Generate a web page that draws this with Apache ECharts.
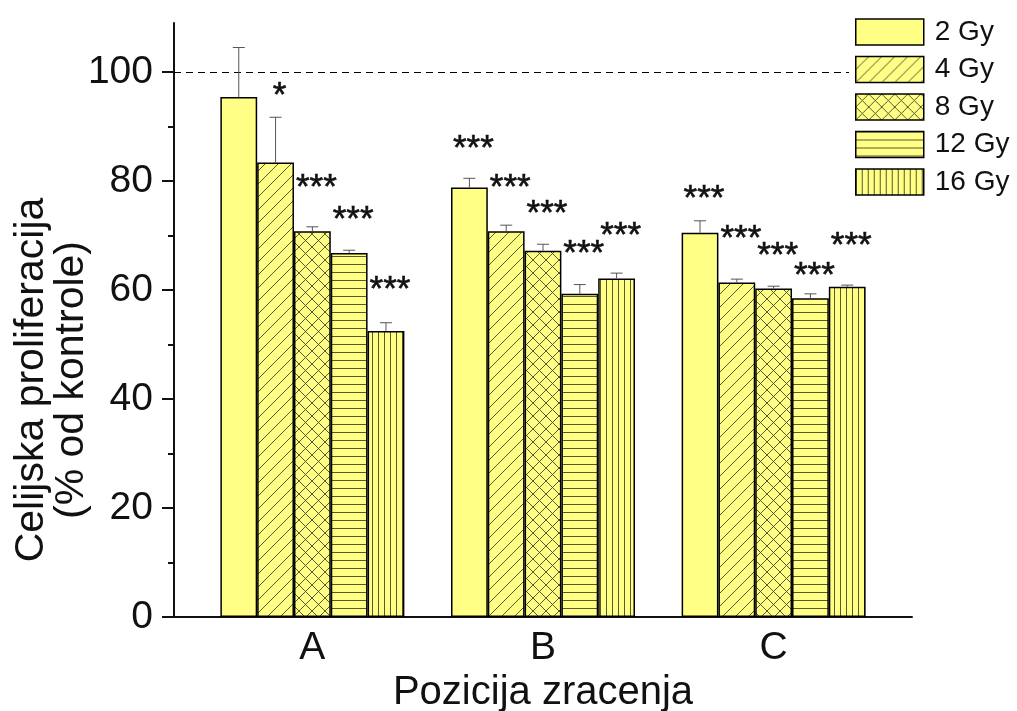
<!DOCTYPE html>
<html>
<head>
<meta charset="utf-8">
<script src="https://cdn.jsdelivr.net/npm/echarts@6/dist/echarts.min.js"></script>
<style>
  html, body { margin: 0; padding: 0; background: #fff; }
  #chart-container { width: 1017px; height: 711px; }
</style>
</head>
<body>
<div id="chart-container"></div>
<script>
// categories (irradiation position) and dose groups
var categories = ['A', 'B', 'C'];
var doses = ['2 Gy', '4 Gy', '8 Gy', '12 Gy', '16 Gy'];

// mean proliferation (% of control), one array per dose, order A, B, C
var v2Gy  = [95.4, 78.8, 70.5];
var v4Gy  = [83.4, 70.8, 61.4];
var v8Gy  = [70.8, 67.2, 60.3];
var v12Gy = [66.8, 59.3, 58.5];
var v16Gy = [52.5, 62.1, 60.6];

// upper error (SD)
var e2Gy  = [9.1, 1.7, 2.2];
var e4Gy  = [8.3, 1.1, 0.6];
var e8Gy  = [0.8, 1.2, 0.4];
var e12Gy = [0.5, 1.7, 0.8];
var e16Gy = [1.5, 1.0, 0.3];

// significance marks and the height (in %) where they are written
var s2Gy  = ['', '***', '***'];
var s4Gy  = ['*', '***', '***'];
var s8Gy  = ['***', '***', '***'];
var s12Gy = ['***', '***', '***'];
var s16Gy = ['***', '***', '***'];
var h2Gy  = [null, 87.2, 78.2];
var h4Gy  = [97.1, 80.2, 70.8];
var h8Gy  = [80.2, 75.4, 67.7];
var h12Gy = [74.3, 68.1, 63.9];
var h16Gy = [61.5, 71.4, 69.5];

var controlLevel = 100;

var values = [v2Gy, v4Gy, v8Gy, v12Gy, v16Gy];
var errors = [e2Gy, e4Gy, e8Gy, e12Gy, e16Gy];
var sigText = [s2Gy, s4Gy, s8Gy, s12Gy, s16Gy];
var sigHeight = [h2Gy, h4Gy, h8Gy, h12Gy, h16Gy];

var FONT = "'Liberation Sans', Arial, sans-serif";
var BAR_W = 36.8;
var FILL = '#ffff86';
var HATCH = 'rgba(70,70,40,0.9)';

// hatch patterns like Origin
function makePattern(kind) {
  var c = document.createElement('canvas');
  var w = 13, h = 13;
  if (kind === 'h') { w = 8; h = 7.6; }
  if (kind === 'v') { w = 5.8; h = 8; }
  if (kind === 'none') { w = 4; h = 4; }
  c.width = Math.round(w); c.height = Math.round(h);
  w = c.width; h = c.height;
  var ctx = c.getContext('2d');
  ctx.fillStyle = FILL;
  ctx.fillRect(0, 0, w, h);
  ctx.strokeStyle = HATCH;
  ctx.lineWidth = 1;
  ctx.beginPath();
  if (kind === 'd' || kind === 'x') {
    ctx.moveTo(-1, h + 1); ctx.lineTo(w + 1, -1);
    ctx.moveTo(-2, 2); ctx.lineTo(2, -2);
    ctx.moveTo(w - 2, h + 2); ctx.lineTo(w + 2, h - 2);
  }
  if (kind === 'x') {
    ctx.moveTo(-1, -1); ctx.lineTo(w + 1, h + 1);
    ctx.moveTo(w - 2, -2); ctx.lineTo(w + 2, 2);
    ctx.moveTo(-2, h - 2); ctx.lineTo(2, h + 2);
  }
  if (kind === 'h') { ctx.moveTo(0, 0.5); ctx.lineTo(w, 0.5); }
  if (kind === 'v') { ctx.moveTo(0.5, 0); ctx.lineTo(0.5, h); }
  ctx.stroke();
  return { image: c, repeat: 'repeat' };
}
var patterns = [makePattern('none'), makePattern('d'), makePattern('x'), makePattern('h'), makePattern('v')];

var barSeries = doses.map(function (name, d) {
  var s = {
    name: name,
    type: 'bar',
    barWidth: BAR_W,
    barGap: '0%',
    data: values[d].map(function (v, i) { return [i + 1, v]; }),
    itemStyle: {
      color: d === 0 ? FILL : patterns[d],
      borderColor: '#000',
      borderWidth: 1.5
    },
    emphasis: { disabled: true },
    z: 2
  };
  if (d === 0) {
    s.markLine = {
      silent: true,
      symbol: 'none',
      label: { show: false },
      lineStyle: { type: [7, 5], color: '#000', width: 1 },
      data: [{ yAxis: controlLevel }],
      z: 1
    };
  }
  return s;
});

var errItems = [];
doses.forEach(function (name, d) {
  categories.forEach(function (cat, i) {
    errItems.push({
      value: [i + 1, d, values[d][i], errors[d][i], sigHeight[d][i] == null ? 0 : sigHeight[d][i]],
      sig: sigText[d][i]
    });
  });
});

function renderErr(params, api) {
  var x = api.value(0), d = api.value(1), v = api.value(2), e = api.value(3), sh = api.value(4);
  var base = api.coord([x, v]);
  var top = api.coord([x, v + e]);
  var cx = base[0] + (d - 2) * BAR_W;
  var children = [
    { type: 'line', shape: { x1: cx, y1: base[1], x2: cx, y2: top[1] },
      style: { stroke: '#555', lineWidth: 1 } },
    { type: 'line', shape: { x1: cx - 6, y1: top[1], x2: cx + 6, y2: top[1] },
      style: { stroke: '#555', lineWidth: 1 } }
  ];
  var item = errItems[params.dataIndex];
  if (item.sig) {
    var p = api.coord([x, sh]);
    children.push({
      type: 'text',
      style: {
        text: item.sig, x: cx + 4, y: p[1] + 8,
        align: 'center', verticalAlign: 'middle',
        font: '35px ' + FONT, fill: '#111',
        stroke: '#111', lineWidth: 0.6
      }
    });
  }
  return { type: 'group', children: children };
}

var dom = document.getElementById('chart-container');
var myChart = echarts.init(dom, null, { renderer: 'canvas' });
var option = {
  animation: false,
  backgroundColor: '#fff',
  grid: { left: 174, right: 105, top: 23, bottom: 94, containLabel: false, outerBoundsMode: 'none' },
  legend: {
    data: doses,
    orient: 'vertical',
    left: 849,
    top: 13,
    padding: [5, 8, 5, 6],
    backgroundColor: '#fff',
    icon: 'rect',
    itemWidth: 68,
    itemHeight: 26,
    itemGap: 9.5,
    textStyle: { fontFamily: FONT, fontSize: 28, color: '#111', lineHeight: 26, padding: [0, 0, 0, 6] },
    itemStyle: { borderColor: '#000', borderWidth: 1.5 }
  },
  xAxis: {
    type: 'value',
    min: 0.4,
    max: 3.6,
    name: 'Pozicija zracenja',
    nameLocation: 'middle',
    nameGap: 54,
    nameTextStyle: { fontFamily: FONT, fontSize: 40, color: '#111' },
    axisLine: { show: true, lineStyle: { color: '#111', width: 2 } },
    axisTick: { show: false },
    splitLine: { show: false },
    axisLabel: {
      customValues: [1, 2, 3],
      formatter: function (val) { return categories[Math.round(val) - 1] || ''; },
      fontFamily: FONT, fontSize: 39, color: '#111', margin: 12
    }
  },
  yAxis: [{
    type: 'value',
    min: 0,
    max: 109,
    axisLine: { show: true, lineStyle: { color: '#111', width: 2 } },
    axisTick: { show: true, customValues: [0, 20, 40, 60, 80, 100], length: 12, lineStyle: { color: '#111', width: 2 } },
    splitLine: { show: false },
    axisLabel: {
      customValues: [0, 20, 40, 60, 80, 100],
      fontFamily: FONT, fontSize: 39, color: '#111', margin: 21
    }
  }, {
    type: 'value',
    min: 0,
    max: 109,
    position: 'left',
    axisLine: { show: false },
    axisTick: { show: true, customValues: [10, 30, 50, 70, 90], length: 6, lineStyle: { color: '#111', width: 2 } },
    axisLabel: { show: false },
    splitLine: { show: false }
  }],
  graphic: [{
    type: 'text',
    x: 52, y: 380,
    rotation: Math.PI / 2,
    style: {
      text: 'Celijska proliferacija\n(% od kontrole)',
      align: 'center', verticalAlign: 'middle',
      font: '41px ' + FONT, lineHeight: 40, fill: '#111'
    }
  }],
  series: barSeries.concat([{
    type: 'custom',
    name: 'err',
    renderItem: renderErr,
    encode: { x: 0, y: 2 },
    data: errItems,
    z: 5,
    silent: true
  }])
};
myChart.setOption(option);
</script>
</body>
</html>
